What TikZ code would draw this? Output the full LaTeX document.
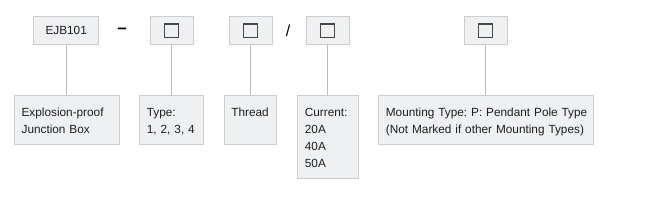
\documentclass[tikz,border=0pt]{standalone}
\usepackage{fontspec}
\setmainfont{Liberation Sans}
\usetikzlibrary{positioning}
\frenchspacing
\definecolor{boxfill}{HTML}{EFF0F2}
\definecolor{boxline}{HTML}{CDCDCD}
\definecolor{leadline}{HTML}{BDBDBD}
\definecolor{txt}{HTML}{1E1E1E}
\begin{document}
\begin{tikzpicture}[x=1pt,y=-1pt,font=\fontsize{11.8}{17}\selectfont,text=txt]
\tikzstyle{code}=[draw=boxline,fill=boxfill,line width=0.8pt,minimum height=28pt,minimum width=43pt,inner sep=0pt]
\tikzstyle{blank}=[draw=black!72,line width=1.4pt,minimum size=13.6pt,inner sep=0pt]
\tikzstyle{sep}=[inner sep=0pt,text=black]
\tikzstyle{desc}=[draw=boxline,fill=boxfill,line width=0.8pt,anchor=north west,align=left,inner xsep=7.5pt,inner ysep=0pt,text height=21pt,text depth=28pt]
\tikzstyle{lead}=[draw=leadline,line width=0.8pt]
\useasboundingbox (0,0) rectangle (648,215);
% code fields
\node[code,minimum width=65pt] (ejb) at (66.2,30.2) {EJB101};
\node[sep,font=\fontsize{17}{17}\selectfont\bfseries] (dash) at (122,30.4) {–};
\node[code] (type) at (171.5,30.2) {}; \node[blank] (typesq) at (171.5,30.6) {};
\node[code] (thread) at (250.5,30.2) {}; \node[blank] (threadsq) at (250.5,30.6) {};
\node[sep,font=\fontsize{16}{16}\selectfont] (slash) at (288,30.6) {/};
\node[code] (current) at (327.5,30.2) {}; \node[blank] (currentsq) at (327.5,30.6) {};
\node[code] (mount) at (485.5,30.2) {}; \node[blank] (mountsq) at (485.5,30.6) {};
% descriptions
\node[desc,text width=90pt] (expl) at (13.7,95) {Explosion-proof\\Junction Box};
\node[desc,text width=49pt] (typed) at (139,95) {Type:\\1, 2, 3, 4};
\node[desc,text width=38pt,inner xsep=7pt] (threadd) at (224,95) {Thread};
\node[desc,text width=46pt,text depth=62pt] (currentd) at (297,95) {Current:\\20A\\40A\\50A};
\node[desc,text width=200pt] (mountd) at (378,95) {\mbox{Mounting Type: P: Pendant Pole Type}\\\mbox{(Not Marked if other Mounting Types)}};
% leaders
\draw[lead] (ejb.south) -- (ejb.south |- expl.north);
\draw[lead] (type.south) -- (type.south |- typed.north);
\draw[lead] (thread.south) -- (thread.south |- threadd.north);
\draw[lead] (current.south) -- (current.south |- currentd.north);
\draw[lead] (mount.south) -- (mount.south |- mountd.north);
\end{tikzpicture}
\end{document}
